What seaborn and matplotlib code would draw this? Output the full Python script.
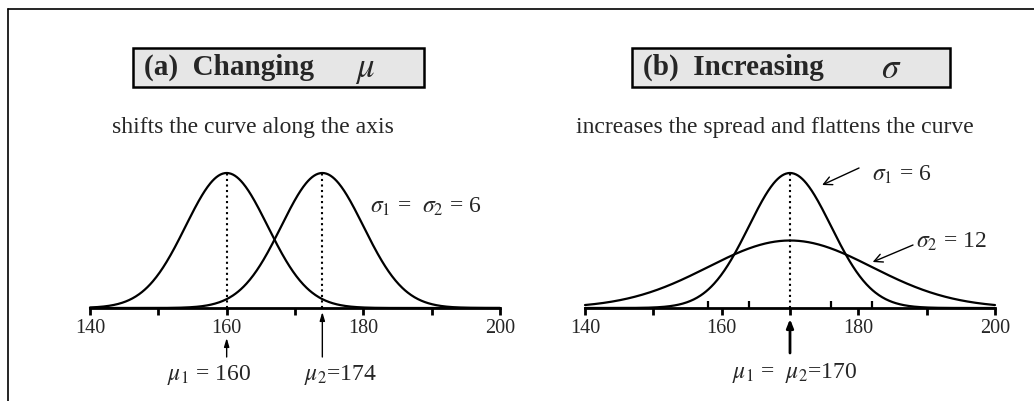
from matplotlib import pyplot as plt
from matplotlib.patches import Rectangle
from matplotlib.lines import Line2D
import numpy as np
import pandas as pd
import seaborn as sns

# panel (a): two means, same sigma
mu_a = [160, 174]
sigma_a = [6, 6]
# panel (b): same mean, two sigmas
mu_b = [170, 170]
sigma_b = [6, 12]
x_range = [140, 200]
major_ticks = [140, 150, 160, 170, 180, 190, 200]
tick_labels = ['140', '', '160', '', '180', '', '200']
minor_ticks_b = [158, 164, 176, 182]

sns.set_style("white")
plt.rcParams['font.family'] = ['Liberation Serif', 'DejaVu Serif']
plt.rcParams['mathtext.fontset'] = 'stix'


def normal_curves(mus, sigmas):
    xs = np.linspace(x_range[0], x_range[1], 601)
    rows = []
    for i, (m, s) in enumerate(zip(mus, sigmas)):
        pdf = np.exp(-0.5 * ((xs - m) / s) ** 2) / (s * np.sqrt(2 * np.pi))
        rows.append(pd.DataFrame({'x': xs, 'density': pdf, 'curve': i}))
    return pd.concat(rows, ignore_index=True)


df_a = normal_curves(mu_a, sigma_a)
df_b = normal_curves(mu_b, sigma_b)

W, H = 1034, 401
fig = plt.figure(figsize=(W / 100, H / 100), dpi=100)

# axes geometry in pixels (top-origin), baseline at 308, peak of sigma=6 at 173
YMAX = 0.08
base_px = 308
ax_h = 135 * YMAX / (1 / (6 * np.sqrt(2 * np.pi)))
ax_a = fig.add_axes([90 / W, (H - base_px) / H, 410 / W, ax_h / H])
ax_b = fig.add_axes([585 / W, (H - base_px) / H, 410 / W, ax_h / H])


def ypx(px):
    # pixel row -> data units
    return (base_px - px) / ax_h * YMAX


for ax, df, mus, sigmas in [(ax_a, df_a, mu_a, sigma_a), (ax_b, df_b, mu_b, sigma_b)]:
    sns.lineplot(data=df, x='x', y='density', units='curve', estimator=None,
                 color='black', lw=1.6, ax=ax, clip_on=False)
    for m, s in zip(mus, sigmas):
        if s == min(sigmas):
            ax.plot([m, m], [0, 1 / (s * np.sqrt(2 * np.pi))], ls=':', color='black', lw=1.5)
    ax.set_xlim(x_range)
    ax.set_ylim(0, YMAX)
    for sp in ['top', 'right', 'left']:
        ax.spines[sp].set_visible(False)
    ax.spines['bottom'].set_linewidth(2)
    ax.spines['bottom'].set_color('black')
    ax.set_yticks([])
    ax.set_xticks(major_ticks)
    ax.set_xticklabels(tick_labels)
    ax.tick_params(axis='x', which='major', direction='out', length=5, width=2,
                   color='black', labelsize=14.5, pad=3, bottom=True)
    ax.set_xlabel('')
    ax.set_ylabel('')
    ax.patch.set_alpha(0)

ax_b.set_xticks(minor_ticks_b, minor=True)
ax_b.tick_params(axis='x', which='minor', direction='in', length=5, width=1.6,
                 color='black', bottom=True)

# arrows under axis
arr = dict(arrowstyle='-|>,head_length=0.5,head_width=0.15', color='black', lw=1.0,
           shrinkA=0, shrinkB=0)
ax_a.annotate('', xy=(mu_a[0], ypx(338)), xytext=(mu_a[0], ypx(357)),
              arrowprops=arr, annotation_clip=False)
ax_a.annotate('', xy=(mu_a[1], ypx(312)), xytext=(mu_a[1], ypx(357)),
              arrowprops=arr, annotation_clip=False)
arr_b = dict(arrowstyle='-|>,head_length=0.5,head_width=0.2', color='black', lw=2.0,
             shrinkA=0, shrinkB=0)
ax_b.annotate('', xy=(mu_b[0], ypx(319)), xytext=(mu_b[0], ypx(353)),
              arrowprops=arr_b, annotation_clip=False)

# labels
fs = 17
ax_a.text(157.4, ypx(375), r'$\mu_1$ = 160', ha='center', va='center', fontsize=fs)
ax_a.text(176.6, ypx(375), r'$\mu_2$=174', ha='center', va='center', fontsize=fs)
ax_b.text(170.7, ypx(373), r'$\mu_1$ =  $\mu_2$=170', ha='center', va='center', fontsize=fs)
ax_a.text(189.2, ypx(207), r'$\sigma_1$ =  $\sigma_2$ = 6', ha='center', va='center', fontsize=fs)
ax_b.text(186.4, ypx(175), r'$\sigma_1$ = 6', ha='center', va='center', fontsize=fs)
ax_b.text(193.6, ypx(242), r'$\sigma_2$ = 12', ha='center', va='center', fontsize=fs)

open_arr = dict(arrowstyle='->,head_length=0.6,head_width=0.3', color='black', lw=1.0,
                shrinkA=0, shrinkB=0)
ax_b.annotate('', xy=(174.7, ypx(185)), xytext=(180.1, ypx(168)),
              arrowprops=open_arr, annotation_clip=False)
ax_b.annotate('', xy=(182.1, ypx(262)), xytext=(188.0, ypx(245)),
              arrowprops=open_arr, annotation_clip=False)

# title boxes and subtitles
titles = [('(a)  Changing', r'$\mu$'), ('(b)  Increasing', r'$\sigma$')]
subtitles = ['shifts the curve along the axis', 'increases the spread and flattens the curve']
boxes = [(133, 424), (632, 950)]
sub_x = [253, 775]
for (t, sym), sub, (x0, x1), sx in zip(titles, subtitles, boxes, sub_x):
    fig.patches.append(Rectangle((x0 / W, (H - 87) / H), (x1 - x0) / W, 39 / H,
                                 transform=fig.transFigure, facecolor='#e6e6e6',
                                 edgecolor='black', lw=1.8))
    fig.text((x0 + 11) / W, (H - 67) / H, t, fontsize=21, fontweight='bold',
             ha='left', va='center')
    fig.text((x1 - 59) / W, (H - 69) / H, sym, fontsize=25, ha='center', va='center')
    fig.text(sx / W, (H - 127) / H, sub, fontsize=17, ha='center', va='center')

# frame lines on top and left
fig.add_artist(Line2D([8 / W, 1], [(H - 9) / H, (H - 9) / H], color='black', lw=1.2,
                      transform=fig.transFigure))
fig.add_artist(Line2D([8 / W, 8 / W], [0, (H - 9) / H], color='black', lw=1.2,
                      transform=fig.transFigure))

fig.savefig('out.png', dpi=100)
